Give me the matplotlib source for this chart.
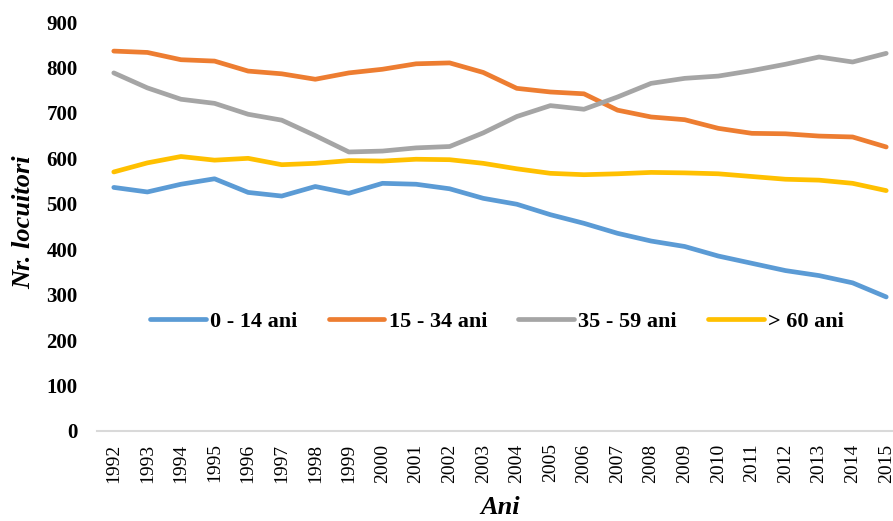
import matplotlib
matplotlib.use("Agg")
import matplotlib.pyplot as plt

plt.rcParams['font.family'] = ['Liberation Serif', 'DejaVu Serif']

years = list(range(1992, 2016))

# valori
copii = [536, 526, 543, 555, 525, 517, 538, 523, 545, 543, 533, 512, 499, 476, 457, 435, 418, 406, 385, 369, 353, 342, 326, 295]
tineri = [836, 833, 817, 814, 792, 786, 774, 788, 796, 808, 810, 789, 754, 746, 742, 706, 691, 685, 666, 655, 654, 649, 647, 625]
adulti = [788, 755, 730, 721, 697, 684, 650, 614, 616, 623, 626, 656, 692, 716, 708, 735, 765, 776, 781, 793, 807, 823, 812, 831]
varstnici = [570, 590, 604, 596, 600, 586, 589, 595, 594, 598, 597, 589, 577, 567, 564, 566, 569, 568, 566, 560, 554, 552, 545, 529]

labels = ['0 - 14 ani', '15 - 34 ani', '35 - 59 ani', '> 60 ani']
colors = ['#5B9BD5', '#ED7D31', '#A5A5A5', '#FFC000']

fig = plt.figure(figsize=(8.93, 5.21), dpi=100)
ax = fig.add_axes([97 / 893, 90 / 521, 806 / 893, 409 / 521])

x = list(range(len(years)))
for serie, lab, col in zip([copii, tineri, adulti, varstnici], labels, colors):
    ax.plot(x, serie, color=col, linewidth=3.4, label=lab, solid_capstyle='round')

ax.set_xlim(-0.5, len(years) - 0.5)
ax.set_ylim(0, 900)
ax.set_yticks(range(0, 1000, 100))
ax.set_xticks(x)
ax.set_xticklabels([str(y) for y in years], rotation=90, fontsize=14)
for t in ax.get_yticklabels():
    t.set_fontsize(15)
    t.set_fontweight('bold')
ax.tick_params(axis='both', length=0)
ax.tick_params(axis='y', pad=14)
ax.tick_params(axis='x', pad=9)

for s in ['top', 'right', 'left']:
    ax.spines[s].set_visible(False)
ax.spines['bottom'].set_color('#D9D9D9')
ax.spines['bottom'].set_linewidth(1.5)

fig.text(24 / 893, 1 - 222 / 521, 'Nr. locuitori', rotation=90, ha='center', va='center',
         fontsize=19, fontweight='bold', fontstyle='italic')
fig.text(500 / 893, 1 - 508 / 521, 'Ani', ha='center', va='center',
         fontsize=19, fontweight='bold', fontstyle='italic')

leg = ax.legend(loc='center', bbox_to_anchor=(497 / 893, 1 - 322 / 521),
                bbox_transform=fig.transFigure, ncol=4, frameon=False,
                prop={'size': 16, 'weight': 'bold'}, handlelength=2.5,
                handletextpad=0.2, columnspacing=1.4)

fig.savefig('out.png', dpi=100)
